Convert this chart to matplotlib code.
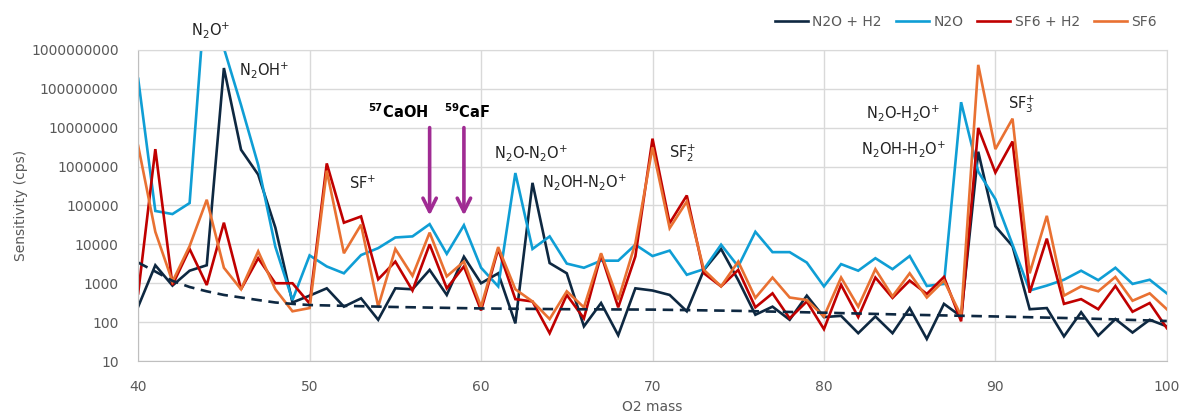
import numpy as np
import matplotlib
matplotlib.use("Agg")
import matplotlib.pyplot as plt
from matplotlib import ticker

mass = list(range(40, 101))

n2o_h2 = [250, 2900, 870, 2100, 2900, 3.4e8, 2.7e6, 6.2e5, 2.7e4, 320,
          480, 740, 250, 410, 115, 740, 700, 2200, 500, 4800,
          1000, 1800, 93, 3.8e5, 3300, 1800, 78, 310, 46, 740,
          650, 500, 190, 2200, 7600, 1200, 155, 250, 115, 480,
          135, 145, 52, 140, 52, 230, 37, 295, 140, 2.4e6,
          2.9e4, 9000, 215, 230, 43, 180, 45, 120, 54, 115,
          78]
n2o = [1.8e8, 7.2e4, 6e4, 1.15e5, 8e10, 1.1e9, 3.8e7, 1.1e6, 8.7e3, 370,
       5200, 2700, 1800, 5300, 8000, 1.5e4, 1.6e4, 3.3e4, 5700, 3.1e4,
       2500, 830, 6.8e5, 7600, 1.6e4, 3200, 2500, 3800, 3800, 9800,
       5000, 6900, 1650, 2300, 9800, 2700, 2.1e4, 6300, 6300, 3400,
       830, 3100, 2100, 4400, 2300, 5000, 850, 960, 4.5e7, 7.4e5,
       1.45e5, 9800, 650, 870, 1230, 2100, 1200, 2500, 960, 1230,
       550]
sf6_h2 = [550, 2.8e6, 900, 7600, 900, 3.6e4, 700, 4400, 1000, 1000,
          300, 1.2e6, 3.6e4, 5.2e4, 1260, 3600, 650, 1e4, 740, 2700,
          200, 7600, 390, 340, 52, 500, 125, 5400, 240, 4900,
          5.2e6, 3.5e4, 1.8e5, 1800, 830, 2200, 240, 550, 125, 340,
          66, 910, 135, 1400, 420, 1170, 530, 1450, 105, 9.8e6,
          7e5, 4.4e6, 570, 1.4e4, 295, 390, 215, 850, 185, 310,
          70]
sf6 = [3.4e6, 2.1e4, 1100, 9000, 1.4e5, 2500, 700, 6600, 700, 190,
       230, 7.8e5, 5900, 3.2e4, 250, 7600, 1550, 2e4, 1500, 3600,
       250, 8500, 700, 340, 120, 620, 240, 5900, 370, 1.07e4,
       3.1e6, 2.6e4, 1.26e5, 2200, 830, 3600, 420, 1400, 430, 370,
       140, 1400, 250, 2300, 460, 1800, 430, 1170, 145, 4.1e8,
       2.8e6, 1.7e7, 1800, 5.4e4, 480, 830, 620, 1450, 355, 550,
       215]

# background (dashed) curve
trend_mass = [40, 41, 42, 43, 44, 45, 46, 47, 48, 49, 50, 55, 60, 65, 70, 75, 80, 85, 90, 95, 100]
trend_val = [3400, 2000, 1150, 800, 620, 500, 430, 370, 320, 295, 275, 245, 225, 215, 210, 195, 175, 155, 140, 125, 107]

labels = ["N2O + H2", "N2O", "SF6 + H2", "SF6"]
colors = ["#0E2841", "#0F9ED5", "#C00000", "#E97132"]

grey = "#595959"

fig = plt.figure(figsize=(11.81, 4.15), dpi=100)
ax = fig.add_axes([0.117, 0.130, 0.871, 0.750])

for series, lab, col in zip([n2o_h2, n2o, sf6_h2, sf6], labels, colors):
    ax.plot(mass, series, color=col, lw=1.9, label=lab, solid_joinstyle="miter")
ax.plot(trend_mass, trend_val, color="#0E2841", lw=1.9, ls=(0, (4, 2.5)))

ax.set_yscale("log")
ax.set_ylim(10, 1e9)
ax.set_xlim(40, 100)
ax.set_xticks(range(40, 101, 10))
ax.set_yticks([10 ** k for k in range(1, 10)])
ax.yaxis.set_minor_locator(ticker.NullLocator())
ax.yaxis.set_major_formatter(ticker.FuncFormatter(lambda v, p: f"{v:.0f}"))
ax.tick_params(length=0, labelsize=10, colors=grey)
ax.tick_params(axis="x", pad=14)
ax.tick_params(axis="y", pad=14)
ax.grid(True, color="#D9D9D9", lw=1)
ax.set_axisbelow(True)
for s in ax.spines.values():
    s.set_color("#D9D9D9")
ax.spines["left"].set_color("#BFBFBF")
ax.spines["bottom"].set_color("#BFBFBF")

ax.set_xlabel("O2 mass", fontsize=10, color=grey, labelpad=4)
ax.set_ylabel("Sensitivity (cps)", fontsize=10, color=grey, labelpad=2)

notes = [
    (r"N$_2$O$^{+}$", 44.24, 3.3e9),
    (r"N$_2$OH$^{+}$", 47.33, 3.1e8),
    (r"SF$^{+}$", 53.1, 3.6e5),
    (r"N$_2$O-N$_2$O$^{+}$", 62.9, 2.2e6),
    (r"N$_2$OH-N$_2$O$^{+}$", 66.05, 4.1e5),
    (r"SF$_2^{+}$", 71.76, 2.2e6),
    (r"N$_2$O-H$_2$O$^{+}$", 84.59, 2.4e7),
    (r"N$_2$OH-H$_2$O$^{+}$", 84.65, 2.9e6),
    (r"SF$_3^{+}$", 91.53, 4.1e7),
]
for txt, x, y in notes:
    ax.text(x, y, txt, fontsize=10.5, color="#222222", ha="center", va="center", clip_on=False)

ax.text(55.14, 2.6e7, r"$^{\mathbf{57}}$CaOH", fontsize=10.5, fontweight="bold",
        ha="center", va="center")
ax.text(59.16, 2.6e7, r"$^{\mathbf{59}}$CaF", fontsize=10.5, fontweight="bold",
        ha="center", va="center")
for x in [57, 59]:
    ax.annotate("", xy=(x, 5.5e4), xytext=(x, 1e7),
                arrowprops=dict(arrowstyle="->", color="#A02B93", lw=2.6,
                                mutation_scale=24, shrinkA=0, shrinkB=0))

fig.legend(loc="upper right", bbox_to_anchor=(0.99, 0.995), ncol=4, frameon=False,
           fontsize=10, labelcolor=grey, handlelength=2.4, handletextpad=0.3,
           columnspacing=1.0)

fig.savefig("out.png", dpi=100)
